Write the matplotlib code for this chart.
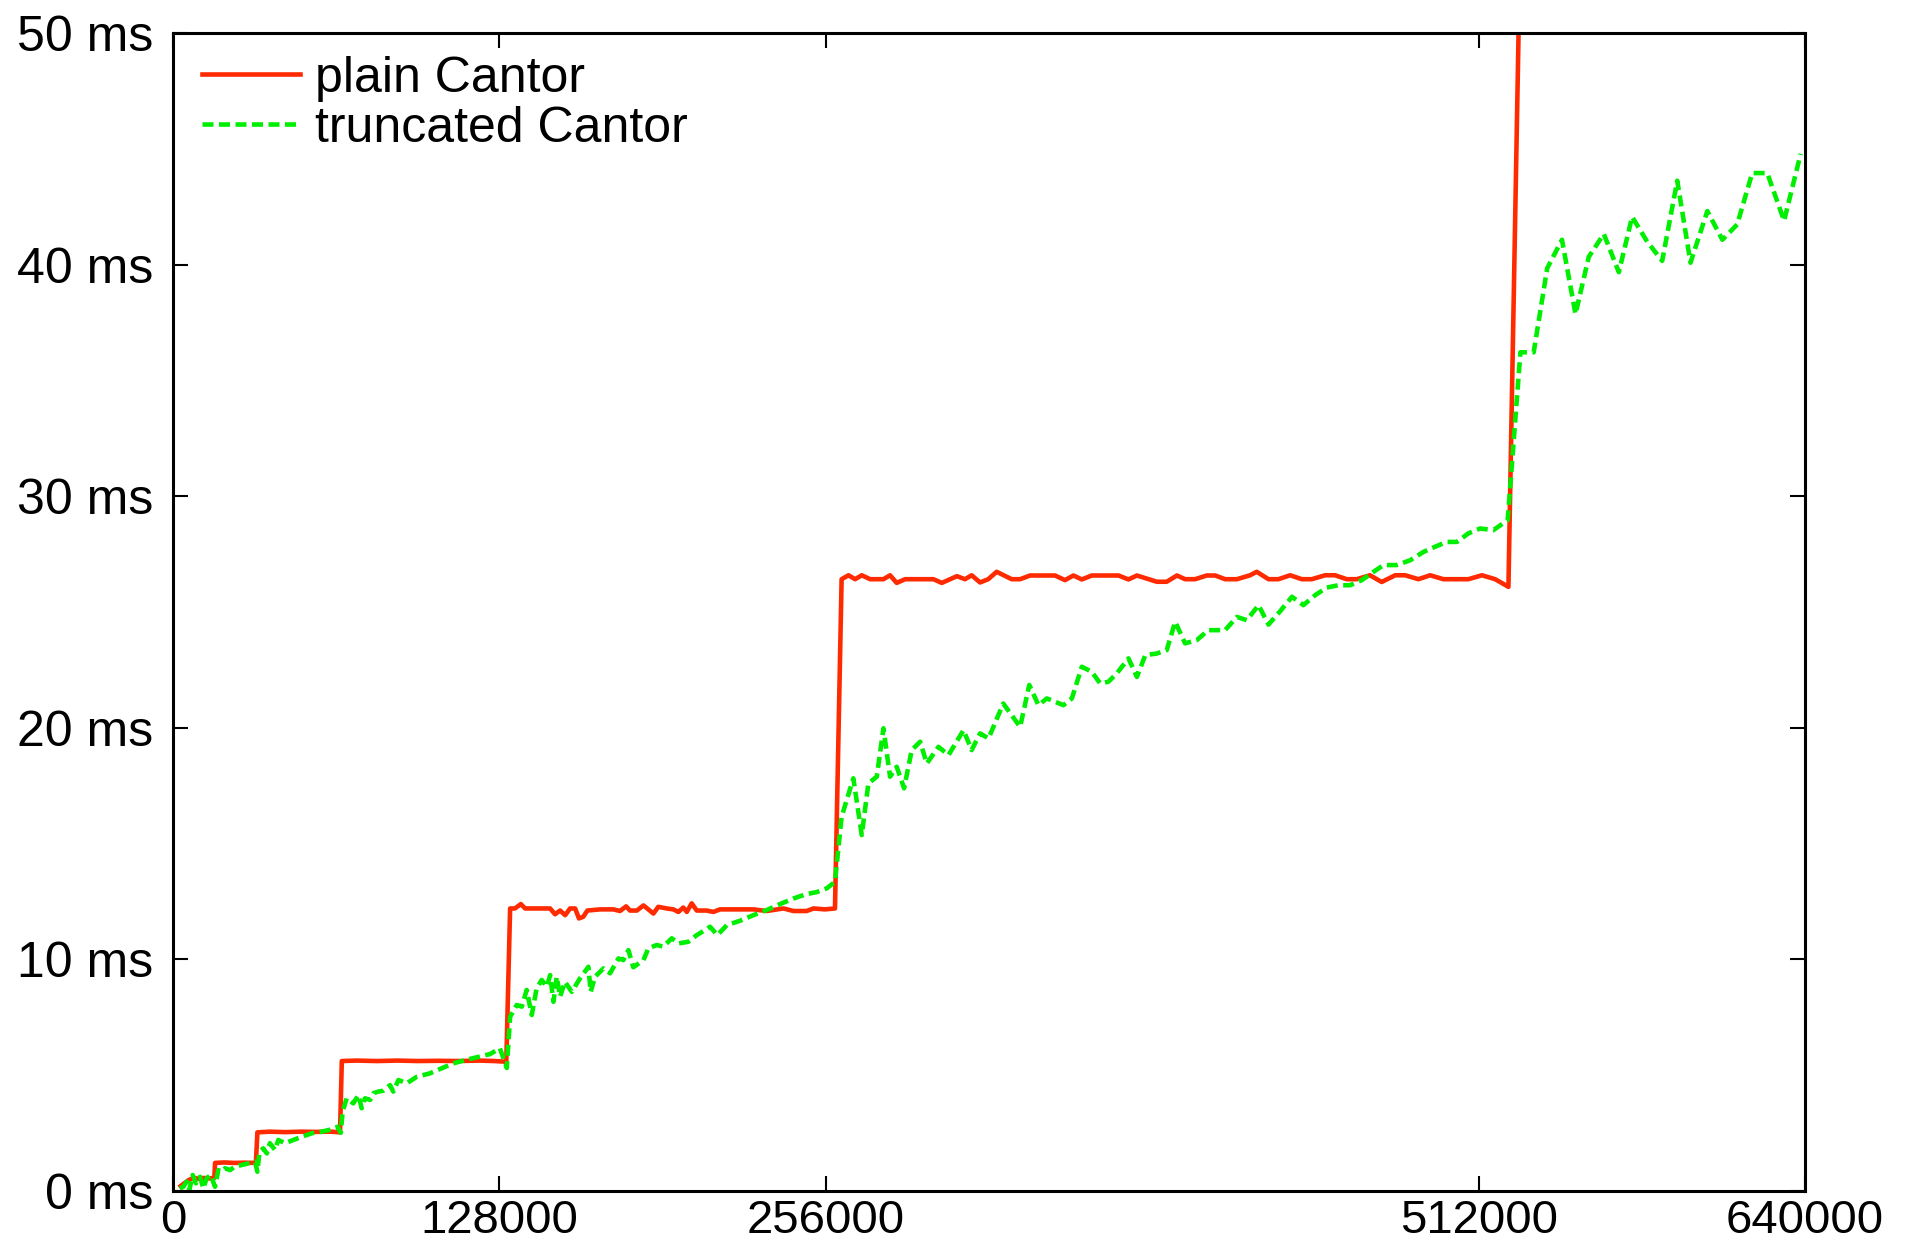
import matplotlib
matplotlib.use("Agg")
import matplotlib.pyplot as plt

plt.rcParams['font.family'] = ['Liberation Sans', 'DejaVu Sans']

# problem size (x) and time in ms (y)
plain_x = [
    3000, 6000, 8000, 10000, 12000, 14000, 16200, 16500, 20000, 24000,
    28000, 32500, 33100, 38000, 44000, 50000, 56000, 62000, 65500, 66200,
    72000, 80000, 88000, 96000, 104000, 112000, 120000, 126000, 130700, 132200,
    134100, 136400, 138100, 141300, 147900, 149800, 151800, 153800, 155700, 157700,
    159200, 160900, 162500, 167500, 172700, 175300, 177700, 179200, 181900, 184500,
    188400, 190300, 193600, 196200, 198200, 200100, 201500, 203400, 205400, 209300,
    211900, 214500, 219800, 227600, 232800, 239400, 243300, 248500, 251200, 255700,
    259600, 262200, 264900, 267500, 270100, 273400, 278600, 281200, 283800, 287100,
    298200, 301500, 307400, 310600, 313200, 316500, 319700, 323000, 328900, 332200,
    336100, 345900, 349800, 353100, 356400, 360300, 370800, 374700, 378000, 385800,
    389700, 393700, 396900, 400800, 405400, 408700, 412600, 417200, 422400, 425000,
    429600, 433500, 438100, 442700, 446600, 451800, 455700, 460300, 464200, 469400,
    474000, 479300, 483200, 488400, 493000, 498200, 503500, 508000, 513300, 518500,
    523700, 529000, 560000, 600000, 640000,
]
plain_ms = [
    0.2, 0.45, 0.55, 0.52, 0.55, 0.53, 0.55, 1.2, 1.22, 1.2,
    1.21, 1.2, 2.52, 2.55, 2.53, 2.55, 2.54, 2.55, 2.52, 5.6,
    5.62, 5.6, 5.62, 5.6, 5.61, 5.6, 5.62, 5.6, 5.57, 12.19,
    12.19, 12.38, 12.19, 12.19, 12.19, 11.94, 12.1, 11.9, 12.19, 12.19,
    11.76, 11.83, 12.1, 12.15, 12.15, 12.08, 12.28, 12.1, 12.1, 12.32,
    11.97, 12.26, 12.19, 12.15, 12.04, 12.23, 12.04, 12.41, 12.1, 12.1,
    12.04, 12.15, 12.15, 12.15, 12.08, 12.19, 12.08, 12.08, 12.19, 12.15,
    12.19, 26.41, 26.58, 26.41, 26.58, 26.41, 26.41, 26.58, 26.25, 26.41,
    26.41, 26.25, 26.54, 26.41, 26.58, 26.27, 26.41, 26.73, 26.41, 26.41,
    26.57, 26.57, 26.37, 26.57, 26.40, 26.57, 26.57, 26.40, 26.57, 26.30,
    26.30, 26.57, 26.41, 26.41, 26.57, 26.57, 26.41, 26.41, 26.58, 26.73,
    26.41, 26.41, 26.58, 26.41, 26.41, 26.58, 26.58, 26.41, 26.41, 26.58,
    26.29, 26.58, 26.58, 26.41, 26.58, 26.41, 26.41, 26.41, 26.58, 26.41,
    26.08, 58.0, 58.5, 59.0, 59.5,
]

trunc_x = [
    2700, 4040, 5370, 6400, 7730, 9020, 10590, 11900, 13200, 14790,
    16470, 17770, 19100, 20400, 22350, 24300, 26900, 29500, 32200, 33100,
    33900, 35400, 36800, 38000, 40000, 41300, 43900, 47200, 50500, 54400,
    58300, 62200, 64500, 65800, 66500, 68100, 70700, 72700, 74000, 75300,
    77300, 78600, 80500, 82500, 85100, 86400, 88400, 91700, 95600, 100800,
    105400, 109900, 114500, 119100, 124300, 128200, 130900, 132200, 134800, 136800,
    138700, 140700, 142600, 144600, 146600, 147900, 149200, 150500, 151800, 153700,
    156400, 159600, 162900, 163800, 165500, 168800, 171400, 174700, 176600, 178600,
    180500, 184500, 186400, 189700, 192300, 195600, 198200, 202100, 205400, 208700,
    210600, 213500, 217200, 222400, 227600, 232800, 238100, 243300, 248500, 252500,
    256400, 259600, 262200, 266800, 270100, 272700, 276000, 278600, 281200, 283800,
    286700, 289700, 293000, 295600, 300200, 304100, 310000, 313200, 316500, 319800,
    325600, 332200, 335800, 339400, 342700, 349200, 352500, 356400, 360300, 363600,
    366800, 370100, 374700, 378000, 381300, 385800, 389700, 393000, 396900, 401500,
    406000, 408000, 412600, 417200, 421100, 425700, 429600, 434200, 438800, 443300,
    447900, 452500, 457000, 461600, 466200, 470800, 474700, 479900, 485200, 490400,
    494900, 499500, 503500, 508000, 512600, 517800, 523400, 528400, 533600, 538900,
    544700, 550000, 555200, 561100, 567000, 572200, 578100, 584000, 589900, 595100,
    601700, 607600, 613400, 619300, 625200, 631800, 638300,
]
trunc_ms = [
    0.1, 0.17, 0.39, 0.03, 0.68, 0.32, 0.60, 0.10, 0.54, 0.68,
    0.17, 0.89, 0.82, 0.97, 0.89, 1.04, 1.11, 1.18, 1.25, 0.82,
    1.68, 1.83, 1.61, 2.05, 1.76, 2.19, 2.05, 2.19, 2.33, 2.48,
    2.55, 2.65, 2.76, 2.5, 3.4, 3.99, 3.77, 4.13, 3.56, 3.99,
    3.92, 4.21, 4.28, 4.32, 4.56, 4.28, 4.78, 4.64, 4.92, 5.07,
    5.29, 5.50, 5.64, 5.76, 5.90, 6.15, 5.3, 7.51, 8.02, 7.95,
    8.67, 7.59, 8.74, 9.10, 8.81, 9.31, 8.16, 9.24, 8.38, 9.02,
    8.59, 9.17, 9.67, 8.59, 9.24, 9.60, 9.39, 10.03, 9.96, 10.39,
    9.65, 9.96, 10.47, 10.61, 10.54, 10.90, 10.68, 10.75, 11.04, 11.26,
    11.40, 11.04, 11.47, 11.66, 11.90, 12.12, 12.38, 12.62, 12.81, 12.90,
    13.06, 13.34, 16.15, 17.81, 15.36, 17.59, 17.88, 19.97, 17.88, 18.31,
    17.38, 19.03, 19.39, 18.45, 19.17, 18.81, 19.89, 19.03, 19.75, 19.53,
    21.04, 20.03, 21.84, 20.97, 21.26, 20.97, 21.26, 22.63, 22.41, 21.91,
    21.98, 22.34, 22.99, 22.19, 23.13, 23.20, 23.35, 24.57, 23.64, 23.78,
    24.21, 24.21, 24.21, 24.78, 24.64, 25.29, 24.45, 25.03, 25.65, 25.29,
    25.72, 26.05, 26.15, 26.15, 26.37, 26.73, 27.02, 27.02, 27.23, 27.59,
    27.81, 28.02, 28.02, 28.39, 28.60, 28.53, 28.96, 36.21, 36.21, 39.84,
    41.07, 37.86, 40.33, 41.32, 39.67, 42.06, 40.99, 40.16, 43.62, 40.08,
    42.31, 41.07, 41.73, 43.95, 43.95, 41.89, 44.78,
]

x_ticks = [0, 128000, 256000, 512000, 640000]
y_ticks = [0, 10, 20, 30, 40, 50]

W, H = 1908, 1243
fig = plt.figure(figsize=(W / 100, H / 100), dpi=100)
ax = fig.add_axes([173 / W, 1 - 1190.7 / H, 1632 / W, 1157.7 / H])

ax.plot(plain_x, plain_ms, color='#ff2a00', lw=3.3, label='plain Cantor')
ax.plot(trunc_x, trunc_ms, color='#00ee00', lw=3.3, ls=(0, (2.4, 1.2)),
        label='truncated Cantor')

ax.set_xlim(0, 640000)
ax.set_ylim(0, 50)
ax.set_xticks(x_ticks)
ax.set_xticklabels([str(t) for t in x_ticks])
ax.set_yticks(y_ticks)
ax.set_yticklabels(['%d ms' % t for t in y_ticks])

ax.tick_params(direction='in', length=11, width=1.5, top=True, right=True,
               colors='black')
ax.tick_params(axis='x', pad=6, labelsize=34)
ax.tick_params(axis='y', pad=14, labelsize=36)
for s in ax.spines.values():
    s.set_linewidth(2.2)

ax.legend(loc='upper left', bbox_to_anchor=(0.004, 1.0), frameon=False,
          fontsize=36, handlelength=1.95, handletextpad=0.3,
          labelspacing=0.08, borderaxespad=0.25, borderpad=0.2)

fig.savefig('out.png', dpi=100)
